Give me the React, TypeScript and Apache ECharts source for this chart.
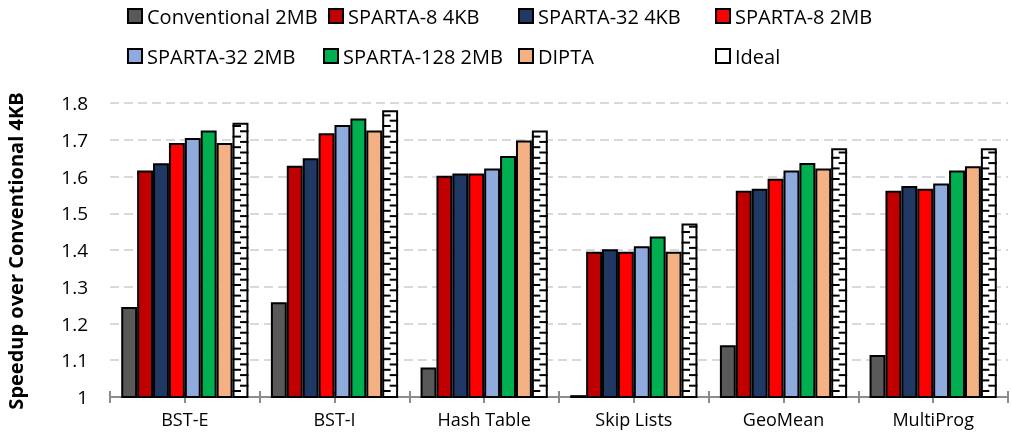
import React, { useEffect, useRef } from "react";
import * as echarts from "echarts";

const categories = ["BST-E", "BST-I", "Hash Table", "Skip Lists", "GeoMean", "MultiProg"];
const seriesNames = [
  "Conventional 2MB",
  "SPARTA-8 4KB",
  "SPARTA-32 4KB",
  "SPARTA-8 2MB",
  "SPARTA-32 2MB",
  "SPARTA-128 2MB",
  "DIPTA",
  "Ideal",
];
const conv2MB = [1.245, 1.258, 1.08, 1.005, 1.141, 1.114];
const sparta8_4KB = [1.616, 1.629, 1.602, 1.395, 1.561, 1.561];
const sparta32_4KB = [1.636, 1.65, 1.608, 1.402, 1.567, 1.574];
const sparta8_2MB = [1.691, 1.718, 1.608, 1.395, 1.594, 1.567];
const sparta32_2MB = [1.705, 1.74, 1.622, 1.41, 1.616, 1.581];
const sparta128_2MB = [1.725, 1.758, 1.656, 1.437, 1.637, 1.616];
const dipta = [1.691, 1.725, 1.698, 1.395, 1.622, 1.628];
const ideal = [1.746, 1.78, 1.725, 1.472, 1.677, 1.677];
const yTitle = "Speedup over Conventional 4KB";

const colors = ["#595959", "#C00000", "#203864", "#FF0000", "#8FAADC", "#00B050", "#F4B183", "#FFFFFF"];
const FONT = "'Open Sans', 'DejaVu Sans', sans-serif";
const CAT_GAP = 0.15;

export default function App() {
  const ref = useRef<HTMLDivElement>(null);
  useEffect(() => {
    if (!ref.current) return;
    const chart = echarts.init(ref.current, null, { renderer: "svg" });
    const values = [conv2MB, sparta8_4KB, sparta32_4KB, sparta8_2MB, sparta32_2MB, sparta128_2MB, dipta, ideal];
    const barSeries = values.map((vals, i) => ({
      name: seriesNames[i],
      type: "bar",
      data: vals,
      barGap: "0%",
      barCategoryGap: "15%",
      itemStyle: { color: colors[i], borderColor: "#000", borderWidth: 2 },
      silent: true,
    }));
    const legendPos = [
      [127, 6], [328, 6], [518, 6], [715, 6],
      [127, 46], [323, 46], [518, 46], [715, 46],
    ];
    const legends = seriesNames.map((n, i) => ({
      data: [n],
      left: legendPos[i][0],
      top: legendPos[i][1],
      padding: 0,
      icon: "rect",
      itemWidth: 14,
      itemHeight: 14,
      selectedMode: false,
      itemStyle: { borderColor: "#000", borderWidth: 2 },
      textStyle: { fontSize: 20, fontFamily: FONT, color: "#000", lineHeight: 20 },
    }));
    const tickAxis = (inside: boolean) => ({
      type: "category",
      position: "bottom",
      data: Array.from({ length: 12 }, () => ""),
      axisLine: { show: false },
      axisLabel: { show: false },
      splitLine: { show: false },
      axisTick: { show: true, inside, length: 6, lineStyle: { color: "#8c8c8c", width: 2 } },
    });
    chart.setOption({
      animation: false,
      legend: legends,
      grid: { left: 110, right: 4, top: 103, bottom: 41 },
      xAxis: [
        {
          type: "category",
          data: categories,
          position: "bottom",
          axisLine: { lineStyle: { color: "#8c8c8c", width: 2 } },
          axisTick: { show: false },
          axisLabel: { fontSize: 18, fontFamily: FONT, color: "#000", margin: 13 },
        },
        tickAxis(false),
        tickAxis(true),
      ],
      yAxis: {
        type: "value",
        min: 1,
        max: 1.8,
        interval: 0.1,
        axisLine: { show: false },
        axisTick: { show: false },
        axisLabel: { fontSize: 19, fontFamily: FONT, color: "#000", margin: 22 },
        splitLine: { lineStyle: { color: "#d9d9d9", width: 2, type: [9, 5] } },
      },
      graphic: [
        {
          type: "text",
          x: 15,
          y: 251,
          rotation: Math.PI / 2,
          style: {
            text: yTitle,
            fontSize: 20,
            fontWeight: "bold",
            fontFamily: FONT,
            fill: "#000",
            textAlign: "center",
            textVerticalAlign: "middle",
          },
        },
      ],
      series: [
        ...barSeries,
        {
          type: "custom",
          name: "IdealPattern",
          silent: true,
          z: 3,
          data: ideal.map((v, i) => [i, v]),
          encode: { x: 0, y: 1 },
          renderItem: (params: any, api: any) => {
            const idx = api.value(0);
            const val = api.value(1);
            const top = api.coord([idx, val]);
            const bottom = api.coord([idx, 1]);
            const bandW = api.size([1, 0])[0];
            const barW = (bandW * (1 - CAT_GAP)) / 8;
            const left = top[0] - (bandW * (1 - CAT_GAP)) / 2 + 7 * barW;
            const mid = left + barW / 2;
            const children: any[] = [];
            let k = 0;
            for (let y = bottom[1] - 6; y > top[1] + 3; y -= 5.3, k++) {
              const isLeft = k % 2 === 0;
              children.push({
                type: "line",
                shape: isLeft
                  ? { x1: left, y1: y, x2: mid + 0.5, y2: y }
                  : { x1: mid - 0.5, y1: y, x2: left + barW, y2: y },
                style: { stroke: "#000", lineWidth: 2 },
              });
            }
            return { type: "group", children };
          },
        },
      ],
    });
    return () => chart.dispose();
  }, []);
  return <div ref={ref} style={{ position: "fixed", left: 0, top: 0, width: 1012, height: 438 }} />;
}
